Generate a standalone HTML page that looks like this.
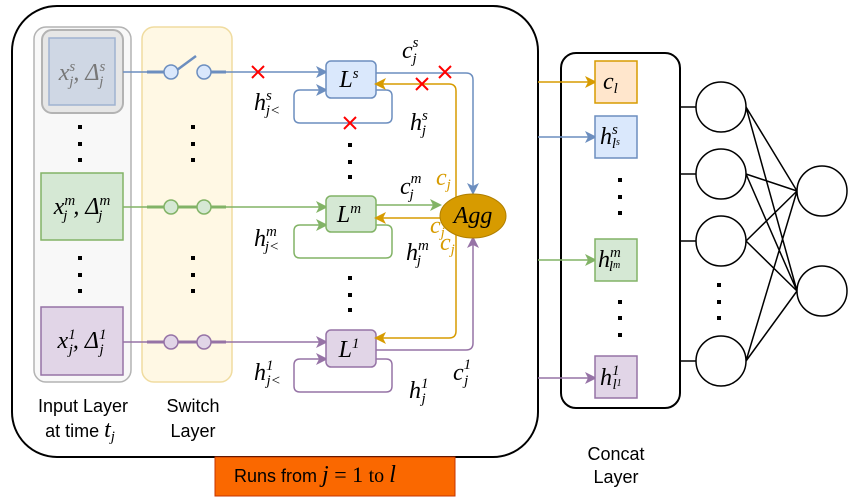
<!DOCTYPE html>
<html><head><meta charset="utf-8"><style>
body{margin:0;background:#fff}
svg{display:block}
.m{font-family:"Liberation Serif",serif;font-style:italic;font-size:24px}
.s{font-size:15px}
.t{font-family:"Liberation Sans",sans-serif;font-size:18px}
</style></head><body>
<svg width="851" height="500" viewBox="0 0 851 500">
<defs>
<marker id="ab" markerWidth="12" markerHeight="12" refX="10" refY="6" orient="auto" markerUnits="userSpaceOnUse"><path d="M0,0L12,6L0,12L3,6z" fill="#6c8ebf"/></marker>
<marker id="ag" markerWidth="12" markerHeight="12" refX="10" refY="6" orient="auto" markerUnits="userSpaceOnUse"><path d="M0,0L12,6L0,12L3,6z" fill="#82b366"/></marker>
<marker id="ap" markerWidth="12" markerHeight="12" refX="10" refY="6" orient="auto" markerUnits="userSpaceOnUse"><path d="M0,0L12,6L0,12L3,6z" fill="#9673a6"/></marker>
<marker id="ao" markerWidth="12" markerHeight="12" refX="10" refY="6" orient="auto" markerUnits="userSpaceOnUse"><path d="M0,0L12,6L0,12L3,6z" fill="#d79b00"/></marker>
</defs>
<rect x="12" y="6" width="526" height="451" rx="45" fill="#fff" stroke="#000" stroke-width="2"/>
<rect x="34" y="27" width="97" height="355" rx="12" fill="#f8f8f8" stroke="#b3b3b3" stroke-width="1.5"/>
<rect x="142" y="27" width="90" height="355" rx="12" fill="#fff8e4" stroke="#f0dca0" stroke-width="1.5"/>
<rect x="42" y="30" width="81" height="83" rx="10" fill="#e6e6e6" stroke="#b3b3b3" stroke-width="2"/>
<rect x="49" y="38" width="66" height="67" fill="#cfd7e4" stroke="#9fb2d0" stroke-width="1.5"/>
<text class="m" x="82" y="80" text-anchor="middle" fill="#777">x<tspan class="s" dy="-9">s</tspan><tspan class="s" dx="-6" dy="15">j</tspan><tspan dy="-6">, Δ</tspan><tspan class="s" dy="-9">s</tspan><tspan class="s" dx="-6" dy="15">j</tspan></text>
<rect x="41" y="173" width="82" height="67" fill="#d5e8d4" stroke="#82b366" stroke-width="1.5"/>
<text class="m" x="82" y="214" text-anchor="middle">x<tspan class="s" dy="-9">m</tspan><tspan class="s" dx="-12" dy="15">j</tspan><tspan dx="6" dy="-6">, Δ</tspan><tspan class="s" dy="-9">m</tspan><tspan class="s" dx="-12" dy="15">j</tspan></text>
<rect x="41" y="307" width="82" height="68" fill="#e1d5e7" stroke="#9673a6" stroke-width="1.5"/>
<text class="m" x="82" y="348" text-anchor="middle">x<tspan class="s" dy="-9">1</tspan><tspan class="s" dx="-7" dy="15">j</tspan><tspan dy="-6">, Δ</tspan><tspan class="s" dy="-9">1</tspan><tspan class="s" dx="-7" dy="15">j</tspan></text>
<g>
<path d="M123,72H164M211,72H326" stroke="#6c8ebf" stroke-width="1.5" fill="none" marker-end="url(#ab)"/>
<path d="M147,72H164M211,72H226" stroke="#6c8ebf" stroke-width="3"/>
<line x1="177" y1="70" x2="196" y2="56" stroke="#6c8ebf" stroke-width="2.5"/>
<circle cx="171" cy="72" r="7" fill="#dae8fc" stroke="#6c8ebf" stroke-width="1.5"/><circle cx="204" cy="72" r="7" fill="#dae8fc" stroke="#6c8ebf" stroke-width="1.5"/>
</g>
<g>
<path d="M123,207H326" stroke="#82b366" stroke-width="1.5" fill="none" marker-end="url(#ag)"/>
<path d="M147,207H226" stroke="#82b366" stroke-width="3"/>
<circle cx="171" cy="207" r="7" fill="#d5e8d4" stroke="#82b366" stroke-width="1.5"/><circle cx="204" cy="207" r="7" fill="#d5e8d4" stroke="#82b366" stroke-width="1.5"/>
</g>
<g>
<path d="M123,342H326" stroke="#9673a6" stroke-width="1.5" fill="none" marker-end="url(#ap)"/>
<path d="M147,342H226" stroke="#9673a6" stroke-width="3"/>
<circle cx="171" cy="342" r="7" fill="#e1d5e7" stroke="#9673a6" stroke-width="1.5"/><circle cx="204" cy="342" r="7" fill="#e1d5e7" stroke="#9673a6" stroke-width="1.5"/>
</g>
<path d="M376,90H386Q392,90 392,96V117Q392,123 386,123H300Q294,123 294,117V96Q294,90 300,90H326" stroke="#6c8ebf" stroke-width="1.5" fill="none" marker-end="url(#ab)"/>
<path d="M376,225H386Q392,225 392,231V252Q392,258 386,258H300Q294,258 294,252V231Q294,225 300,225H326" stroke="#82b366" stroke-width="1.5" fill="none" marker-end="url(#ag)"/>
<path d="M376,359H386Q392,359 392,365V386Q392,392 386,392H300Q294,392 294,386V365Q294,359 300,359H326" stroke="#9673a6" stroke-width="1.5" fill="none" marker-end="url(#ap)"/>
<rect x="326" y="61" width="50" height="37" rx="5" fill="#dae8fc" stroke="#6c8ebf" stroke-width="1.5"/>
<text class="m" x="349" y="87" text-anchor="middle">L<tspan class="s" dy="-9">s</tspan></text>
<rect x="326" y="196" width="50" height="36" rx="5" fill="#d5e8d4" stroke="#82b366" stroke-width="1.5"/>
<text class="m" x="349" y="222" text-anchor="middle">L<tspan class="s" dy="-9">m</tspan></text>
<rect x="326" y="330" width="50" height="37" rx="5" fill="#e1d5e7" stroke="#9673a6" stroke-width="1.5"/>
<text class="m" x="349" y="357" text-anchor="middle">L<tspan class="s" dy="-9">1</tspan></text>
<path d="M376,73H466Q473,73 473,80V193" stroke="#6c8ebf" stroke-width="1.5" fill="none" marker-end="url(#ab)"/>
<path d="M376,205H440" stroke="#82b366" stroke-width="1.5" fill="none" marker-end="url(#ag)"/>
<path d="M376,350H466Q473,350 473,343V238" stroke="#9673a6" stroke-width="1.5" fill="none" marker-end="url(#ap)"/>
<path d="M456,200V91Q456,84 449,84H376" stroke="#d79b00" stroke-width="1.5" fill="none" marker-end="url(#ao)"/>
<path d="M442,218H376" stroke="#d79b00" stroke-width="1.5" fill="none" marker-end="url(#ao)"/>
<path d="M456,232V331Q456,338 449,338H376" stroke="#d79b00" stroke-width="1.5" fill="none" marker-end="url(#ao)"/>
<ellipse cx="473" cy="216" rx="33" ry="22" fill="#d79b00" stroke="#b07f00"/>
<text class="m" x="473" y="223" text-anchor="middle">Agg</text>
<g stroke="#ff0000" stroke-width="2">
<path d="M252,66l12,12M264,66l-12,12"/><path d="M439,66l12,12M451,66l-12,12"/><path d="M416,78l12,12M428,78l-12,12"/><path d="M344,117l12,12M356,117l-12,12"/>
</g>
<text class="m" x="402" y="58">c<tspan class="s" dy="-11">s</tspan><tspan class="s" dx="-6" dy="16">j</tspan></text>
<text class="m" x="254" y="110">h<tspan class="s" dy="-10">s</tspan><tspan class="s" dx="-6" dy="15">j&lt;</tspan></text>
<text class="m" x="410" y="130">h<tspan class="s" dy="-10">s</tspan><tspan class="s" dx="-6" dy="15">j</tspan></text>
<text class="m" x="400" y="194">c<tspan class="s" dy="-11">m</tspan><tspan class="s" dx="-12" dy="16">j</tspan></text>
<text class="m" x="254" y="246">h<tspan class="s" dy="-10">m</tspan><tspan class="s" dx="-12" dy="15">j&lt;</tspan></text>
<text class="m" x="406" y="260">h<tspan class="s" dy="-10">m</tspan><tspan class="s" dx="-12" dy="15">j</tspan></text>
<text class="m" x="254" y="380">h<tspan class="s" dy="-10">1</tspan><tspan class="s" dx="-7" dy="15">j&lt;</tspan></text>
<text class="m" x="409" y="398">h<tspan class="s" dy="-10">1</tspan><tspan class="s" dx="-7" dy="15">j</tspan></text>
<text class="m" x="453" y="380">c<tspan class="s" dy="-11">1</tspan><tspan class="s" dx="-7" dy="16">j</tspan></text>
<g fill="#d79b00"><text class="m" x="436" y="185">c<tspan class="s" dy="4">j</tspan></text>
<text class="m" x="430" y="233">c<tspan class="s" dy="4">j</tspan></text>
<text class="m" x="440" y="250">c<tspan class="s" dy="4">j</tspan></text></g>
<g fill="#000">
<rect x="78" y="125" width="4" height="4"/><rect x="78" y="142" width="4" height="4"/><rect x="78" y="158" width="4" height="4"/>
<rect x="78" y="256" width="4" height="4"/><rect x="78" y="273" width="4" height="4"/><rect x="78" y="289" width="4" height="4"/>
<rect x="191" y="125" width="4" height="4"/><rect x="191" y="142" width="4" height="4"/><rect x="191" y="158" width="4" height="4"/>
<rect x="191" y="256" width="4" height="4"/><rect x="191" y="273" width="4" height="4"/><rect x="191" y="289" width="4" height="4"/>
<rect x="348" y="143" width="4" height="4"/><rect x="348" y="160" width="4" height="4"/><rect x="348" y="175" width="4" height="4"/>
<rect x="348" y="276" width="4" height="4"/><rect x="348" y="293" width="4" height="4"/><rect x="348" y="308" width="4" height="4"/>
</g>
<text class="t" x="83" y="412" text-anchor="middle">Input Layer</text>
<text class="t" x="80" y="437" text-anchor="middle">at time <tspan class="m" font-size="20">t</tspan><tspan class="m s" dy="4">j</tspan></text>
<text class="t" x="193" y="412" text-anchor="middle">Switch</text>
<text class="t" x="193" y="437" text-anchor="middle">Layer</text>
<rect x="215" y="457" width="240" height="39" fill="#fa6800" stroke="#c73500"/>
<text class="t" x="234" y="482">Runs from <tspan class="m" font-size="22">j</tspan><tspan font-family="Liberation Serif" font-size="22"> = 1 </tspan><tspan font-family="Liberation Serif" font-size="20"> to </tspan><tspan class="m" font-size="22">l</tspan></text>
<rect x="561" y="53" width="119" height="355" rx="15" fill="#fff" stroke="#000" stroke-width="2"/>
<path d="M538,82H595" stroke="#d79b00" stroke-width="1.5" marker-end="url(#ao)"/>
<path d="M538,137H595" stroke="#6c8ebf" stroke-width="1.5" marker-end="url(#ab)"/>
<path d="M538,260H595" stroke="#82b366" stroke-width="1.5" marker-end="url(#ag)"/>
<path d="M538,378H595" stroke="#9673a6" stroke-width="1.5" marker-end="url(#ap)"/>
<rect x="595" y="61" width="42" height="42" fill="#ffe6cc" stroke="#d79b00" stroke-width="1.5"/>
<text class="m" x="603" y="89">c<tspan class="s" dy="4">l</tspan></text>
<rect x="595" y="116" width="42" height="42" fill="#dae8fc" stroke="#6c8ebf" stroke-width="1.5"/>
<text class="m" x="600" y="144">h<tspan class="s" dy="-10">s</tspan><tspan class="s" dx="-6" dy="14">l<tspan font-size="10" dy="-3">s</tspan></tspan></text>
<rect x="595" y="239" width="42" height="42" fill="#d5e8d4" stroke="#82b366" stroke-width="1.5"/>
<text class="m" x="598" y="267">h<tspan class="s" dy="-10">m</tspan><tspan class="s" dx="-12" dy="14">l<tspan font-size="10" dy="-3">m</tspan></tspan></text>
<rect x="595" y="356" width="42" height="42" fill="#e1d5e7" stroke="#9673a6" stroke-width="1.5"/>
<text class="m" x="600" y="385">h<tspan class="s" dy="-10">1</tspan><tspan class="s" dx="-7" dy="14">l<tspan font-size="10" dy="-3">1</tspan></tspan></text>
<g fill="#000">
<rect x="618" y="178" width="4" height="4"/><rect x="618" y="195" width="4" height="4"/><rect x="618" y="211" width="4" height="4"/>
<rect x="618" y="300" width="4" height="4"/><rect x="618" y="316" width="4" height="4"/><rect x="618" y="333" width="4" height="4"/>
<rect x="717" y="283" width="4" height="4"/><rect x="717" y="300" width="4" height="4"/><rect x="717" y="316" width="4" height="4"/>
</g>
<text class="t" x="616" y="460" text-anchor="middle">Concat</text>
<text class="t" x="616" y="483" text-anchor="middle">Layer</text>
<g stroke="#000" stroke-width="1.5" fill="none">
<path d="M680,107H696M680,174H696M680,241H696M680,361H696"/>
<path d="M746,107L797,191M746,107L797,291M746,174L797,191M746,174L797,291M746,241L797,191M746,241L797,291M746,361L797,191M746,361L797,291"/>
<g fill="#fff"><circle cx="721" cy="107" r="25"/><circle cx="721" cy="174" r="25"/><circle cx="721" cy="241" r="25"/><circle cx="721" cy="361" r="25"/>
<circle cx="822" cy="191" r="25"/><circle cx="822" cy="291" r="25"/></g>
</g>
</svg>
</body></html>
